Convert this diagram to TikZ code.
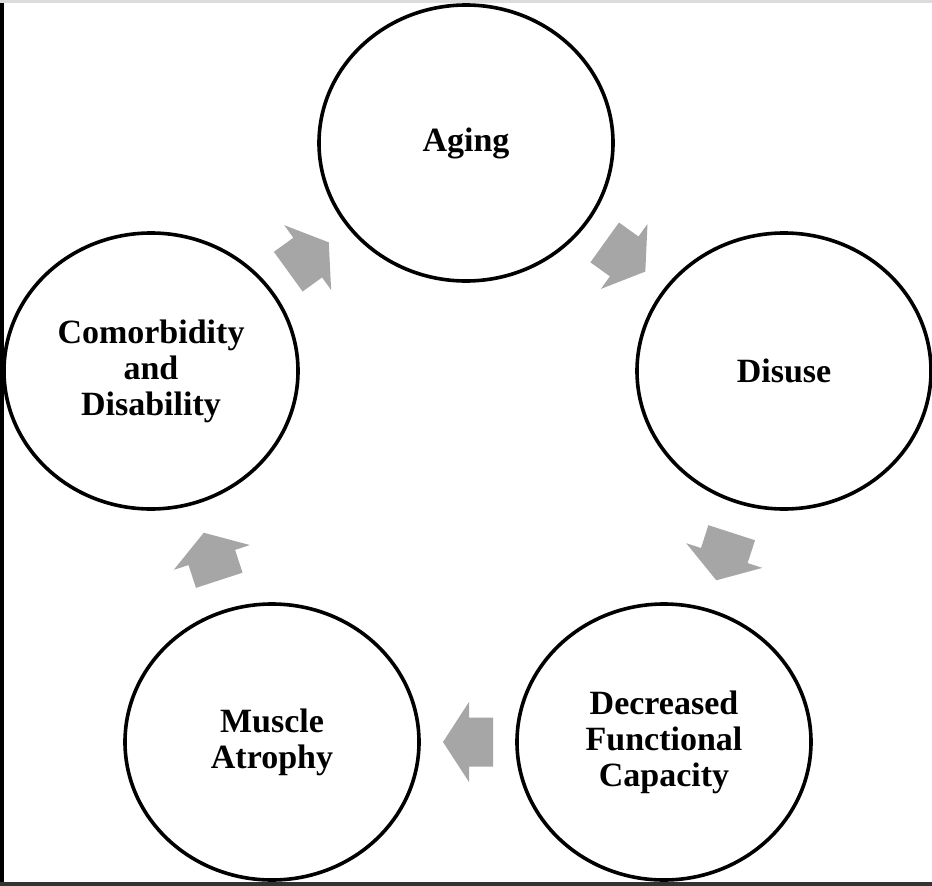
\documentclass[tikz,border=0pt]{standalone}
\usepackage{fontspec}
\setmainfont{Liberation Serif}
\usetikzlibrary{calc,shapes.geometric}
\definecolor{arrowgray}{HTML}{A6A6A6}
\definecolor{topgray}{HTML}{DCDCDC}
\definecolor{botgray}{HTML}{333333}
\tikzset{
  stage/.style={draw=black, line width=3.6pt, ellipse, minimum width=294pt, minimum height=276pt, inner sep=0pt, align=center,
    font=\fontsize{34pt}{36pt}\selectfont\bfseries},
  blockarrow/.style={fill=arrowgray, draw=none}
}
\newcommand{\cyclearrow}[2]{%
  \fill[blockarrow] let \p1=($(#2.center)-(#1.center)$), \n1={atan2(\y1,\x1)}, \p2=($(#1.center)!0.5!(#2.center)$) in
    ($(\p2)+(\n1:-25pt)+(\n1+90:24.5pt)$) -- ($(\p2)+(\n1:-1pt)+(\n1+90:24.5pt)$) --
    ($(\p2)+(\n1:-1pt)+(\n1+90:40pt)$) -- ($(\p2)+(\n1:25pt)$) --
    ($(\p2)+(\n1:-1pt)+(\n1-90:40pt)$) -- ($(\p2)+(\n1:-1pt)+(\n1-90:24.5pt)$) --
    ($(\p2)+(\n1:-25pt)+(\n1-90:24.5pt)$) -- cycle;}
\begin{document}
\begin{tikzpicture}[x=1pt,y=-1pt]
\useasboundingbox (0,0) rectangle (932,886);
\fill[white] (0,0) rectangle (932,886);
\fill[topgray] (0,0) rectangle (932,3);
\fill[black] (0,3) rectangle (4,886);
\fill[botgray] (0,882) rectangle (932,886);
\node[stage] (aging) at (466,143) {Aging};
\node[stage] (disuse) at (784,371) {Disuse};
\node[stage] (dfc) at (664,742) {Decreased\\Functional\\Capacity};
\node[stage] (ma) at (272,742) {Muscle\\Atrophy};
\node[stage] (cd) at (151,371) {Comorbidity\\and\\Disability};
\cyclearrow{aging}{disuse}
\cyclearrow{disuse}{dfc}
\cyclearrow{dfc}{ma}
\cyclearrow{ma}{cd}
\cyclearrow{cd}{aging}
\end{tikzpicture}
\end{document}
